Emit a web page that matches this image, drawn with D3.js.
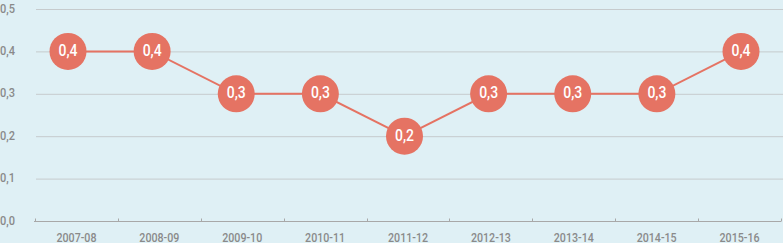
<!DOCTYPE html>
<html>
<head>
<meta charset="utf-8">
<script src="https://cdn.jsdelivr.net/npm/d3@7"></script>
<style>
  html, body { margin: 0; padding: 0; background: #dff0f5; }
  svg { display: block; }
  .lbl { font-family: "Roboto", "Liberation Sans", sans-serif; }
</style>
</head>
<body>
<div id="chart"></div>
<script>
// school years and values
var years = ["2007-08", "2008-09", "2009-10", "2010-11", "2011-12", "2012-13", "2013-14", "2014-15", "2015-16"];
var values = [0.4, 0.4, 0.3, 0.3, 0.2, 0.3, 0.3, 0.3, 0.4];
var yTicks = [0, 0.1, 0.2, 0.3, 0.4, 0.5];

var width = 783, height = 243;
var coral = "#e57363";

var svg = d3.select("#chart").append("svg")
    .attr("width", width)
    .attr("height", height);

var fmt = function(v){ return d3.format(".1f")(v).replace(".", ","); };

// band scale for the axis labels, point scale for the markers
var xBand = d3.scaleBand().domain(years).range([35, 781]);
var xPoint = d3.scalePoint().domain(years).range([68, 741]);
var y = d3.scaleLinear().domain([0, 0.5]).range([221, 9]);

// gridlines
svg.append("g").selectAll("line")
    .data(yTicks.filter(function(d){ return d > 0; }))
    .enter().append("line")
    .attr("x1", 36).attr("x2", width)
    .attr("y1", function(d){ return y(d) + 0.5; })
    .attr("y2", function(d){ return y(d) + 0.5; })
    .attr("stroke", "#c6cbcd")
    .attr("stroke-width", 1);

// y labels, squeezed to look condensed
svg.append("g").selectAll("text")
    .data(yTicks)
    .enter().append("text")
    .attr("class", "lbl")
    .attr("x", 0)
    .attr("y", function(d){ return y(d) + 3.5; })
    .attr("fill", "#8a8a8a")
    .attr("font-size", 13.5)
    .attr("font-weight", 500)
    .attr("textLength", 15)
    .attr("lengthAdjust", "spacingAndGlyphs")
    .text(fmt);

// x axis
var xAxis = d3.axisBottom(xBand).tickSize(0).tickPadding(0);
var gx = svg.append("g")
    .attr("transform", "translate(0," + (y(0) + 0.5) + ")")
    .call(xAxis);
gx.select(".domain").remove();
gx.selectAll(".tick text")
    .attr("class", "lbl")
    .attr("dy", null)
    .attr("y", 20)
    .attr("fill", "#8a8a8a")
    .attr("font-size", 13.5)
    .attr("font-weight", 500)
    .attr("textLength", 40)
    .attr("lengthAdjust", "spacingAndGlyphs");

gx.append("line")
    .attr("x1", 34).attr("x2", 781)
    .attr("stroke", "#a8a8a8");
gx.selectAll(".sep")
    .data(years.concat(["end"]))
    .enter().append("line")
    .attr("class", "sep")
    .attr("x1", function(d, i){ return Math.round(xBand(years[0]) + i * xBand.step()) + 0.5; })
    .attr("x2", function(d, i){ return Math.round(xBand(years[0]) + i * xBand.step()) + 0.5; })
    .attr("y1", -3).attr("y2", 0)
    .attr("stroke", "#a8a8a8");

// line
var line = d3.line()
    .x(function(d, i){ return xPoint(years[i]); })
    .y(function(d){ return y(d); });

svg.append("path")
    .datum(values)
    .attr("d", line)
    .attr("fill", "none")
    .attr("stroke", coral)
    .attr("stroke-width", 2);

// markers
var pts = svg.append("g").selectAll("g")
    .data(values)
    .enter().append("g")
    .attr("transform", function(d, i){ return "translate(" + xPoint(years[i]) + "," + y(d) + ")"; });

pts.append("circle")
    .attr("r", 18.5)
    .attr("fill", coral);

pts.append("text")
    .attr("class", "lbl")
    .attr("text-anchor", "middle")
    .attr("x", 0)
    .attr("y", 4.5)
    .attr("fill", "#ffffff")
    .attr("font-size", 17)
    .attr("font-weight", 500)
    .attr("textLength", 19)
    .attr("lengthAdjust", "spacingAndGlyphs")
    .text(fmt);
</script>
</body>
</html>
